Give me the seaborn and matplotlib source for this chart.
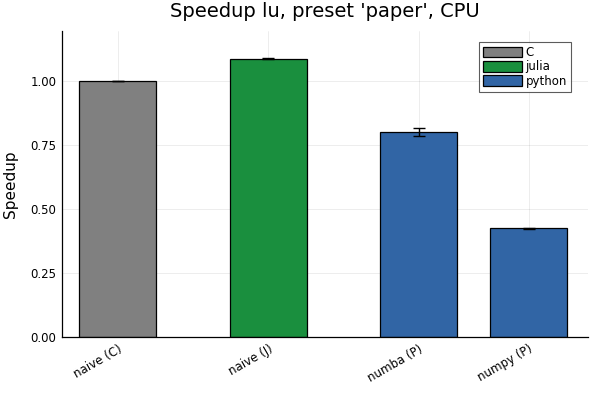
import numpy as np
import pandas as pd
import matplotlib
matplotlib.use("Agg")
import matplotlib.pyplot as plt
import seaborn as sns

sns.set_style("white")
plt.rcParams['font.family'] = ['DejaVu Sans']
plt.rcParams['text.color'] = 'black'
plt.rcParams['axes.labelcolor'] = 'black'
plt.rcParams['xtick.color'] = 'black'
plt.rcParams['ytick.color'] = 'black'

# data
names = ["naive (C)", "naive (J)", "numba (P)", "numpy (P)"]
langs = ["C", "julia", "python", "python"]
speedup = [1.0, 1.087, 0.801, 0.424]
err = [0.001, 0.001, 0.016, 0.003]

lang_colors = {"C": "#808080", "julia": "#1a8f3e", "python": "#3165a5"}

# bars sit one unit apart, with extra space between language groups
group_gap = 0.37
pos = []
x = 0.0
for i, l in enumerate(langs):
    if i > 0:
        x += 1.0 + (group_gap if l != langs[i - 1] else 0.0)
    pos.append(x)

df = pd.DataFrame({"pos": pos, "speedup": speedup, "lang": langs, "name": names})

fig = plt.figure(figsize=(6, 4), dpi=100)
ax = fig.add_axes([0.1033, 0.1575, 0.8767, 0.765])

sns.barplot(data=df, x="pos", y="speedup", hue="lang", palette=lang_colors,
            native_scale=True, dodge=False, width=0.7, errorbar=None,
            saturation=1, edgecolor="black", linewidth=0.9, ax=ax)
ax.errorbar(df["pos"], df["speedup"], yerr=err, fmt="none", ecolor="black",
            elinewidth=1.0, capsize=4, capthick=1.0, zorder=5)

ax.set_xlim(-0.508, 4.28)
ax.set_ylim(0, 1.195)
ax.set_xticks(pos)
ax.set_xticklabels(names, rotation=30, ha="right", rotation_mode="anchor", fontsize=8.5)
ax.set_yticks([0, 0.25, 0.5, 0.75, 1.0])
ax.set_yticklabels(["0.00", "0.25", "0.50", "0.75", "1.00"], fontsize=8.5)
ax.tick_params(direction="in", length=4, width=0.8, color="black", pad=4)
ax.grid(True, color="black", alpha=0.1, linewidth=0.5)
ax.set_axisbelow(True)
for s in ["top", "right"]:
    ax.spines[s].set_visible(False)
for s in ["left", "bottom"]:
    ax.spines[s].set_color("black")
    ax.spines[s].set_linewidth(0.9)

ax.set_xlabel("")
ax.set_ylabel("Speedup", fontsize=11, labelpad=9)
ax.set_title("Speedup lu, preset 'paper', CPU", fontsize=14, pad=10)

leg = ax.legend(loc="upper right", bbox_to_anchor=(0.968, 0.964), borderaxespad=0,
                fontsize=8.5, frameon=True, fancybox=False, handlelength=3.3,
                handleheight=1.0, handletextpad=0.3, labelspacing=0.1, borderpad=0.35)
leg.get_frame().set_edgecolor("#333333")
leg.get_frame().set_linewidth(0.8)

fig.savefig("out.png", dpi=100)
